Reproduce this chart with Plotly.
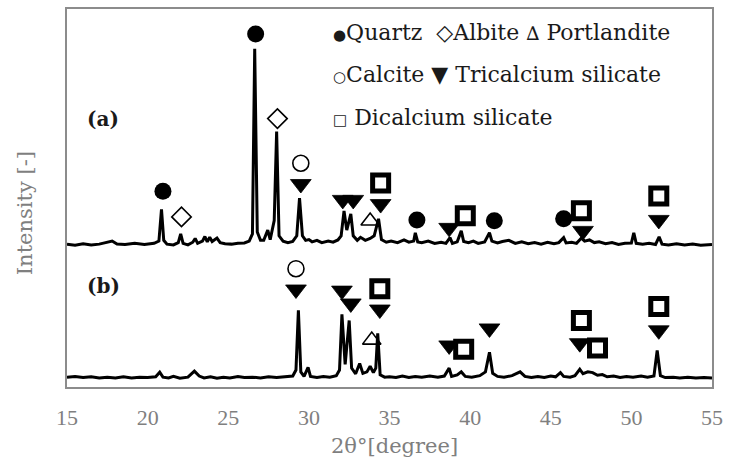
import plotly.graph_objects as go

# ---- XRD pattern (a) : 2theta, intensity (arbitrary units, offset) ----
a_x = [15.0, 15.5, 16.0, 16.5, 17.0, 17.6, 17.8, 18.1, 18.6, 19.2, 19.8, 20.4, 20.7, 20.86, 21.0,
       21.2, 21.6, 21.9, 22.05, 22.2, 22.5, 22.8, 22.95, 23.1, 23.4, 23.55, 23.7, 23.85, 24.0,
       24.3, 24.5, 24.8, 25.2, 25.6, 26.0, 26.3, 26.5, 26.64, 26.8, 27.0, 27.2, 27.45, 27.6,
       27.85, 28.0, 28.15, 28.4, 28.7, 29.0, 29.25, 29.42, 29.6, 29.8, 30.0, 30.2, 30.5, 30.8,
       31.2, 31.5, 31.8, 32.0, 32.18, 32.35, 32.6, 32.75, 33.0, 33.2, 33.5, 33.8, 34.05, 34.32,
       34.5, 34.8, 35.1, 35.5, 35.9, 36.2, 36.5, 36.6, 36.75, 37.0, 37.4, 37.8, 38.2, 38.5,
       38.75, 38.9, 39.2, 39.45, 39.6, 39.9, 40.2, 40.5, 40.9, 41.2, 41.35, 41.7, 42.0, 42.4,
       42.8, 43.2, 43.6, 44.0, 44.4, 44.8, 45.2, 45.5, 45.8, 45.95, 46.3, 46.6, 46.9, 47.1,
       47.4, 47.7, 48.0, 48.4, 48.8, 49.2, 49.6, 50.0, 50.15, 50.3, 50.7, 51.1, 51.5, 51.72,
       51.9, 52.3, 52.8, 53.3, 53.8, 54.3, 55.0]
a_y = [37.8, 37.5, 37.9, 37.6, 37.8, 38.4, 38.6, 37.8, 37.7, 38.0, 37.7, 38.0, 38.6, 47.0, 38.8,
       37.8, 37.6, 38.2, 40.5, 38.0, 37.6, 38.3, 39.3, 38.0, 38.6, 39.8, 38.4, 39.6, 38.5,
       39.4, 38.2, 37.9, 37.8, 38.0, 38.1, 38.6, 40.5, 89.5, 41.0, 38.8, 38.8, 41.5, 39.0,
       44.0, 67.6, 40.0, 38.6, 38.2, 38.5, 40.0, 50.0, 40.0, 38.8, 39.0, 38.4, 38.8, 38.2,
       38.6, 38.3, 38.9, 40.0, 46.6, 41.5, 45.8, 40.0, 38.8, 39.6, 38.8, 39.3, 40.0, 44.5,
       39.0, 38.3, 38.6, 38.2, 38.9, 38.3, 38.6, 40.8, 38.4, 38.2, 38.6, 38.0, 38.3, 38.0,
       39.5, 38.0, 38.4, 41.3, 38.5, 38.2, 38.6, 38.0, 38.4, 40.8, 38.6, 38.1, 38.5, 38.8,
       38.0, 38.4, 37.9, 38.2, 37.8, 38.3, 37.9, 38.2, 39.5, 38.1, 38.3, 38.0, 39.4, 38.6,
       38.9, 38.2, 38.4, 37.9, 38.2, 37.7, 38.0, 38.1, 40.8, 38.0, 37.8, 38.0, 37.7, 39.7,
       37.8, 37.6, 37.9, 37.6, 37.8, 37.5, 37.7]

# ---- XRD pattern (b) ----
b_x = [15.0, 15.5, 16.0, 16.5, 17.0, 17.5, 18.0, 18.5, 19.0, 19.5, 20.0, 20.5, 20.75, 20.95,
       21.3, 21.6, 22.0, 22.5, 22.9, 23.2, 23.5, 23.9, 24.3, 24.7, 25.1, 25.6, 26.0, 26.5,
       27.0, 27.5, 28.0, 28.5, 29.0, 29.2, 29.35, 29.5, 29.7, 29.95, 30.1, 30.5, 30.9, 31.3,
       31.7, 31.9, 32.05, 32.25, 32.5, 32.65, 32.9, 33.15, 33.35, 33.6, 33.8, 34.0, 34.15,
       34.27, 34.42, 34.7, 35.0, 35.4, 35.8, 36.2, 36.6, 37.0, 37.5, 38.0, 38.4, 38.7, 38.85,
       39.2, 39.45, 39.7, 40.1, 40.6, 40.95, 41.2, 41.4, 41.7, 42.1, 42.6, 43.1, 43.4, 43.8,
       44.2, 44.6, 45.0, 45.3, 45.6, 45.8, 46.2, 46.5, 46.8, 47.0, 47.3, 47.6, 47.9, 48.2,
       48.5, 48.9, 49.3, 49.7, 50.1, 50.6, 51.0, 51.4, 51.6, 51.8, 52.1, 52.6, 53.0, 53.5,
       54.0, 54.5, 55.0]
b_y = [2.6, 2.8, 2.5, 2.7, 2.4, 2.6, 2.4, 2.7, 2.4, 2.6, 2.5, 2.7, 3.9, 2.6,
       2.4, 2.8, 2.3, 2.6, 4.2, 2.9, 2.4, 2.7, 2.3, 2.6, 2.4, 2.8, 2.5, 2.6,
       2.4, 2.7, 2.5, 2.6, 2.9, 4.5, 20.3, 4.0, 2.8, 5.2, 2.8, 2.5, 2.8, 2.6,
       3.0, 4.5, 19.2, 6.0, 17.6, 5.0, 3.5, 6.2, 3.6, 4.0, 5.5, 3.8, 5.0,
       14.2, 3.2, 2.6, 2.7, 2.5, 2.9, 2.5, 2.8, 2.6, 2.9, 2.6, 2.9, 5.0, 2.8,
       3.2, 4.0, 2.8, 2.6, 3.0, 4.0, 9.2, 3.6, 2.8, 2.6, 3.0, 4.0, 2.8, 2.5,
       2.8, 2.5, 2.9, 2.7, 3.8, 2.8, 2.6, 3.0, 4.7, 3.5, 4.0, 3.8, 3.1, 3.3,
       2.7, 2.9, 2.5, 2.8, 2.6, 2.9, 2.6, 2.9, 9.7, 3.0, 2.5, 2.6, 2.4, 2.6,
       2.4, 2.5, 2.4]

# ---- phase identification markers ----
quartz_x = [20.95, 26.7, 36.7, 41.5, 45.8]
quartz_y = [51.8, 93.4, 44.2, 44.0, 44.5]
albite_x = [22.1, 28.05]
albite_y = [45.0, 71.0]
portlandite_x = [33.8, 33.9]
portlandite_y = [43.9, 12.4]
calcite_x = [29.5, 29.2]
calcite_y = [59.2, 31.3]
c3s_x = [29.5, 32.1, 32.75, 34.45, 38.7, 47.0, 51.7,
         29.2, 32.05, 32.6, 34.4, 38.7, 41.2, 46.8, 51.7]
c3s_y = [53.7, 49.5, 49.5, 48.4, 42.1, 41.3, 44.2,
         25.8, 25.5, 22.1, 20.5, 11.0, 15.5, 11.6, 15.0]
c2s_x = [34.45, 39.7, 46.9, 51.7, 34.4, 39.6, 46.9, 47.9, 51.7]
c2s_y = [54.0, 45.3, 46.6, 50.5, 26.0, 10.0, 17.6, 10.3, 21.3]

x_ticks = [15, 20, 25, 30, 35, 40, 45, 50, 55]

legend_lines = [
    "<span style='font-size:15px'>●</span>Quartz  ◇Albite <span style='font-size:19px'>∆</span> Portlandite",
    "<span style='font-size:15px'>○</span>Calcite ▼ Tricalcium silicate",
    "<span style='font-size:15px'>□</span> Dicalcium silicate",
]
legend_y = [93.8, 82.6, 71.3]

GRAY = "#7f7f7f"
SERIF = "DejaVu Serif"

fig = go.Figure()
for xs, ys in [(a_x, a_y), (b_x, b_y)]:
    fig.add_trace(go.Scatter(x=xs, y=ys, mode="lines",
                             line=dict(color="black", width=3), hoverinfo="skip"))

def mk(xs, ys, symbol, size, lw=1.5, color="black"):
    fig.add_trace(go.Scatter(x=xs, y=ys, mode="markers",
                             marker=dict(symbol=symbol, size=size, color=color,
                                         line=dict(color="black", width=lw)),
                             hoverinfo="skip"))

mk(quartz_x, quartz_y, "circle", 17, 0)
mk(albite_x, albite_y, "diamond-open", 15, 1.6)
mk(portlandite_x, portlandite_y, "triangle-up-open", 16, 1.6)
mk(calcite_x, calcite_y, "circle-open", 16, 1.6)
mk(c3s_x, c3s_y, "triangle-down", 18, 0.8)
mk(c2s_x, c2s_y, "square-open", 16, 5)

anns = []
for txt, yy in zip(legend_lines, legend_y):
    anns.append(dict(x=31.35, y=yy, xref="x", yref="y", text=txt, showarrow=False,
                     xanchor="left", yanchor="middle",
                     font=dict(family=SERIF, size=22, color="#1a1a1a")))
anns.append(dict(x=17.25, y=71.0, xref="x", yref="y", text="<b>(a)</b>", showarrow=False,
                 font=dict(family=SERIF, size=20, color="#1a1a1a")))
anns.append(dict(x=17.25, y=26.8, xref="x", yref="y", text="<b>(b)</b>", showarrow=False,
                 font=dict(family=SERIF, size=20, color="#1a1a1a")))
anns.append(dict(x=-0.065, y=0.46, xref="paper", yref="paper", text="Intensity [-]",
                 showarrow=False, textangle=-90, xanchor="center", yanchor="middle",
                 font=dict(family=SERIF, size=21, color=GRAY)))
anns.append(dict(x=0.508, y=-0.156, xref="paper", yref="paper", text="2θ°[degree]",
                 showarrow=False, xanchor="center", yanchor="middle",
                 font=dict(family=SERIF, size=21, color=GRAY)))

fig.update_layout(
    width=730, height=462,
    margin=dict(l=67, r=13, t=7, b=75),
    paper_bgcolor="white", plot_bgcolor="white",
    showlegend=False,
    annotations=anns,
    xaxis=dict(range=[15, 55], tickvals=x_ticks, ticktext=[str(t) for t in x_ticks],
               showgrid=False, zeroline=False, showline=True, mirror=True,
               linecolor="#8c8c8c", linewidth=2, ticks="outside", ticklen=10,
               tickcolor="rgba(0,0,0,0)",
               tickfont=dict(family="Liberation Serif", size=22, color=GRAY)),
    yaxis=dict(range=[0, 100], showticklabels=False, showgrid=False, zeroline=False,
               showline=True, mirror=True, linecolor="#8c8c8c", linewidth=2, ticks=""),
)

fig.write_html("out.html")
